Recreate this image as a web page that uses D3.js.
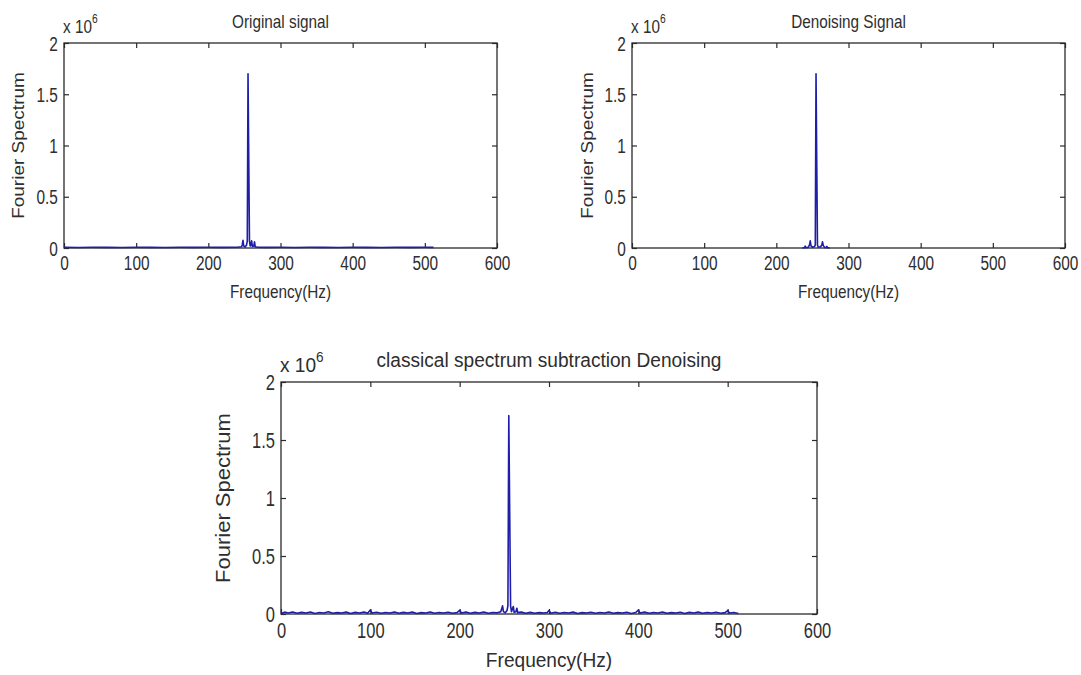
<!DOCTYPE html>
<html>
<head>
<meta charset="utf-8">
<script src="https://cdn.jsdelivr.net/npm/d3@7"></script>
<style>
  body { margin: 0; background: #fff; }
  svg text { font-family: "Liberation Sans", Arial, sans-serif; fill: #2e2e2e; }
</style>
</head>
<body>
<div class="content"></div>
<script>
// ---- data (amplitude in units of 10^6, frequency in Hz) ----
const TITLES = ["Original signal", "Denoising Signal", "classical spectrum subtraction Denoising"];
const X_LABEL = "Frequency(Hz)";
const Y_LABEL = "Fourier Spectrum";
const FREQ_TICKS = [0, 100, 200, 300, 400, 500, 600];
const AMP_TICKS = [0, 0.5, 1, 1.5, 2];

const originalSignal = [
  [0,0.007],[20,0.005],[40,0.007],[60,0.006],[80,0.005],[100,0.007],[120,0.006],[140,0.005],
  [160,0.007],[180,0.006],[200,0.007],[220,0.006],[240,0.007],[246,0.012],[247,0.03],[248,0.075],
  [249,0.02],[251,0.01],[253,0.03],[254,0.07],[255,1.70],[256,0.87],[257,0.07],[258,0.02],
  [259,0.03],[260,0.07],[261,0.015],[263,0.02],[264,0.06],[265,0.012],[268,0.007],[280,0.006],
  [300,0.007],[320,0.005],[340,0.007],[360,0.006],[380,0.005],[400,0.007],[420,0.006],[440,0.005],
  [460,0.007],[480,0.006],[500,0.007],[512,0.006]
];

// zero outside the band around the tone
const denoisedSignal = [
  [236,0],[239,0.004],[240,0.018],[241,0.004],[244,0.006],[246,0.03],[247,0.07],
  [248,0.02],[250,0.008],[253,0.015],[254,0.03],[255,1.70],[256,0.84],[257,0.03],[258,0.01],
  [261,0.01],[263,0.03],[264,0.06],[265,0.025],[267,0.006],[269,0.004],[270,0.015],[271,0.004],
  [274,0]
];

const subtractionSignal = [
  [0,0.004],[4,0.016],[8,0.008],[13,0.018],[18,0.006],[23,0.014],[28,0.009],[33,0.017],
  [38,0.005],[43,0.013],[48,0.008],[53,0.019],[58,0.006],[63,0.012],[68,0.009],[73,0.016],
  [78,0.005],[83,0.014],[88,0.008],[93,0.017],[97,0.007],[100,0.035],[102,0.008],[107,0.015],
  [112,0.006],[117,0.013],[122,0.009],[127,0.018],[132,0.006],[137,0.014],[142,0.008],[147,0.016],
  [152,0.005],[157,0.012],[162,0.009],[167,0.017],[172,0.006],[177,0.013],[182,0.008],[187,0.015],
  [192,0.006],[197,0.012],[200,0.032],[202,0.009],[207,0.016],[212,0.006],[217,0.014],[222,0.008],
  [227,0.017],[232,0.007],[237,0.013],[242,0.01],[246,0.02],[248,0.07],[249,0.02],[251,0.01],
  [253,0.03],[254,0.07],[255,1.71],[256,0.88],[257,0.07],[258,0.02],[260,0.065],[261,0.015],
  [263,0.02],[264,0.05],[265,0.012],[269,0.016],[274,0.007],[279,0.014],[284,0.006],[289,0.012],
  [294,0.008],[298,0.013],[300,0.03],[302,0.007],[307,0.015],[312,0.006],[317,0.013],[322,0.009],
  [327,0.016],[332,0.005],[337,0.012],[342,0.008],[347,0.015],[352,0.006],[357,0.013],[362,0.009],
  [367,0.017],[372,0.006],[377,0.012],[382,0.008],[387,0.015],[392,0.005],[397,0.013],[400,0.034],
  [402,0.008],[407,0.016],[412,0.006],[417,0.013],[422,0.009],[427,0.017],[432,0.006],[437,0.012],
  [442,0.008],[447,0.015],[452,0.005],[457,0.014],[462,0.008],[467,0.016],[472,0.006],[477,0.013],
  [482,0.009],[487,0.015],[492,0.006],[497,0.012],[500,0.03],[502,0.008],[507,0.013],[512,0.004]
];

const SERIES = [originalSignal, denoisedSignal, subtractionSignal];

// ---- layout ----
const W = 1081, H = 675;
const LINE_COLOR = "#1e1ea8";
const AXIS_COLOR = "#2a2a2a";

const panels = [
  {x: 64,  y: 43,  w: 433, h: 205, font: 19, tfont: 20, sx: 0.85, tsx: 0.77, ylab: 46, xlab: 50},
  {x: 632, y: 43,  w: 433, h: 205, font: 19, tfont: 20, sx: 0.85, tsx: 0.77, ylab: 45, xlab: 50},
  {x: 281, y: 382, w: 536, h: 232, font: 22, tfont: 22, sx: 0.91, tsx: 0.75, ylab: 57, xlab: 53}
];

const svg = d3.select(".content").append("svg").attr("width", W).attr("height", H);

function addText(g, x, y, str, size, sx, anchor, rot) {
  return g.append("text")
    .attr("transform", `translate(${x},${y}) scale(${sx},1)` + (rot ? " rotate(-90)" : ""))
    .attr("text-anchor", anchor)
    .style("font-size", size + "px")
    .text(str);
}

panels.forEach((p, i) => {
  const g = svg.append("g").attr("class", "panel-" + i);

  const xscale = d3.scaleLinear().domain([0, 600]).range([p.x, p.x + p.w]);
  const yscale = d3.scaleLinear().domain([0, 2]).range([p.y + p.h, p.y]);

  const line = d3.line()
    .x(d => xscale(d[0]))
    .y(d => yscale(d[1]));

  // axes, matlab style: ticks inside, box all round
  const xaxis = d3.axisBottom(xscale).tickValues(FREQ_TICKS).tickFormat(d3.format("d"))
    .tickSizeInner(-5).tickSizeOuter(0).tickPadding(8);
  const yaxis = d3.axisLeft(yscale).tickValues(AMP_TICKS).tickFormat(d3.format("~g"))
    .tickSizeInner(-5).tickSizeOuter(0).tickPadding(8);
  const xtop = d3.axisTop(xscale).tickValues(FREQ_TICKS).tickFormat("")
    .tickSizeInner(-5).tickSizeOuter(0);
  const yright = d3.axisRight(yscale).tickValues(AMP_TICKS).tickFormat("")
    .tickSizeInner(-5).tickSizeOuter(0);

  const gx = g.append("g").attr("transform", `translate(0,${p.y + p.h})`).call(xaxis);
  const gy = g.append("g").attr("transform", `translate(${p.x},0)`).call(yaxis);
  const gt = g.append("g").attr("transform", `translate(0,${p.y})`).call(xtop);
  const gr = g.append("g").attr("transform", `translate(${p.x + p.w},0)`).call(yright);

  [gx, gy, gt, gr].forEach(a => {
    a.select(".domain").remove();
    a.selectAll("line").attr("stroke", AXIS_COLOR).attr("stroke-width", 1.2);
    a.selectAll("text")
      .attr("fill", "#2e2e2e")
      .style("font-family", '"Liberation Sans", Arial, sans-serif')
      .style("font-size", p.tfont + "px")
      .attr("transform", `scale(${p.tsx},1)`);
  });
  gy.selectAll("text").attr("dy", "0.36em");

  g.append("rect")
    .attr("x", p.x).attr("y", p.y).attr("width", p.w).attr("height", p.h)
    .attr("fill", "none").attr("stroke", AXIS_COLOR).attr("stroke-width", 1.3);

  // spectrum line, on top of the box like matlab
  g.append("path")
    .datum(SERIES[i])
    .attr("d", line)
    .attr("fill", "none")
    .attr("stroke", LINE_COLOR)
    .attr("stroke-width", 1.6)
    .attr("stroke-linejoin", "round");

  // title
  addText(g, p.x + p.w / 2, p.y - 15, TITLES[i], p.font - 1, p.sx, "middle");

  // x 10^6 multiplier
  const mult = g.append("text")
    .attr("transform", `translate(${p.x - 1},${p.y - 10}) scale(${p.sx},1)`)
    .style("font-size", (p.font - 1) + "px");
  mult.append("tspan").text("x 10");
  mult.append("tspan").attr("dy", -10).style("font-size", (p.font - 7) + "px").text("6");

  // axis labels
  addText(g, p.x + p.w / 2, p.y + p.h + p.xlab, X_LABEL, p.font - 1, p.sx, "middle");
  addText(g, p.x - p.ylab + 6, p.y + p.h / 2, Y_LABEL, p.font, p.sx, "middle", true);
});
</script>
</body>
</html>
